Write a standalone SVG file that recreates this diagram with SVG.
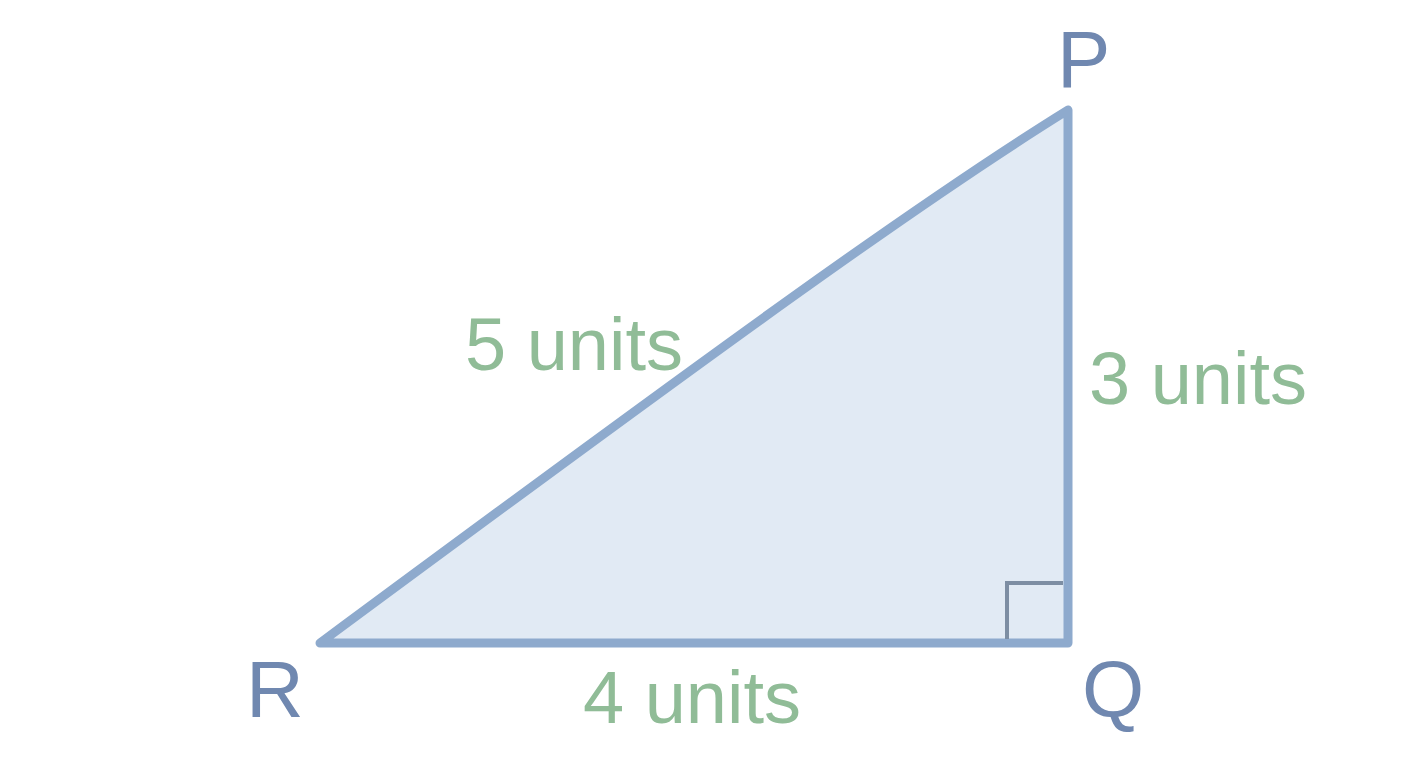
<svg xmlns="http://www.w3.org/2000/svg" width="1408" height="768" viewBox="0 0 1408 768">
<style>
.vlabel{font-family:"Liberation Sans",Arial,sans-serif;font-size:80px;fill:#7088b0}
.slabel{font-family:"Liberation Sans",Arial,sans-serif;font-size:74px;fill:#90bc97}
</style>
<rect width="1408" height="768" fill="#ffffff"/>
<g id="triangle">
<path d="M320,643 C720,347 918,203 1068,110 L1068,643 Z" fill="#e1eaf4" stroke="#8eaacd" stroke-width="9" stroke-linejoin="round" stroke-linecap="round"/>
</g>
<g id="right-angle">
<polyline points="1007,639 1007,583 1063,583" fill="none" stroke="#7d8ea3" stroke-width="4"/>
</g>
<g id="vertex-P"><text class="vlabel" x="1057" y="87">P</text></g>
<g id="vertex-R"><text class="vlabel" x="246" y="717">R</text></g>
<g id="vertex-Q"><text class="vlabel" x="1082" y="717">Q</text></g>
<g id="side-PR"><text class="slabel" x="465" y="370">5 units</text></g>
<g id="side-PQ"><text class="slabel" x="1089" y="404">3 units</text></g>
<g id="side-RQ"><text class="slabel" x="583" y="723">4 units</text></g>
</svg>
